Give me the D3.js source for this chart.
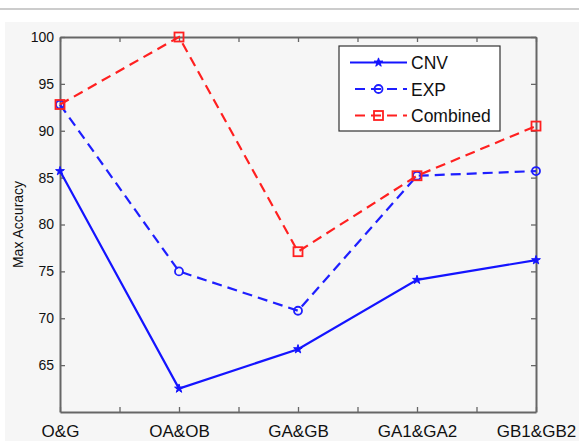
<!DOCTYPE html>
<html>
<head>
<meta charset="utf-8">
<script src="https://cdn.jsdelivr.net/npm/d3@7"></script>
<style>
  body { margin: 0; background: #fff; }
  svg { display: block; font-family: "Liberation Sans", Arial, sans-serif; }
</style>
</head>
<body>
<div id="chart"></div>
<script>
// data
var categories = ["O&G", "OA&OB", "GA&GB", "GA1&GA2", "GB1&GB2"];
var cnvValues = [85.7, 62.5, 66.7, 74.1, 76.2];
var expValues = [92.8, 75.0, 70.8, 85.2, 85.7];
var combinedValues = [92.8, 100, 77.1, 85.2, 90.5];
var yTicks = [65, 70, 75, 80, 85, 90, 95, 100];
var seriesNames = ["CNV", "EXP", "Combined"];

var W = 579, H = 441;
var margin = {top: 37, right: 43, bottom: 29, left: 60},
    width = W - margin.left - margin.right,
    height = H - margin.top - margin.bottom;

var svg = d3.select("#chart").append("svg")
    .attr("width", W)
    .attr("height", H);

// page decoration: thin rule and grey panel
svg.append("line")
    .attr("x1", 0).attr("x2", W).attr("y1", 9).attr("y2", 9)
    .style("stroke", "#bbb").style("stroke-width", 1.5);
svg.append("rect")
    .attr("x", 5).attr("y", 22).attr("width", W - 5).attr("height", H - 22)
    .style("fill", "#f6f6f6");

var g = svg.append("g")
    .attr("transform", "translate(" + margin.left + "," + margin.top + ")");

var x = d3.scaleLinear().domain([0, categories.length - 1]).range([0, width]);
var y = d3.scaleLinear().domain([60, 100]).range([height, 0]);

var xTickVals = d3.range(0, categories.length - 0.99, 0.5);

// axes (box style, ticks inward)
var xAxis = d3.axisBottom(x).tickValues(xTickVals).tickSizeInner(-5).tickSizeOuter(0)
    .tickFormat(function(d) { return Number.isInteger(d) ? categories[d] : ""; })
    .tickPadding(13);
var yAxis = d3.axisLeft(y).tickValues(yTicks).tickSizeInner(-5).tickSizeOuter(0).tickPadding(6);

var gx = g.append("g").attr("transform", "translate(0," + height + ")").call(xAxis);
var gy = g.append("g").call(yAxis);
var gxt = g.append("g").call(d3.axisTop(x).tickValues(xTickVals).tickSizeInner(-5).tickSizeOuter(0).tickFormat(""));
var gyr = g.append("g").attr("transform", "translate(" + width + ",0)")
    .call(d3.axisRight(y).tickValues(yTicks).tickSizeInner(-5).tickSizeOuter(0).tickFormat(""));

[gx, gy, gxt, gyr].forEach(function(a) {
    a.select(".domain").style("stroke", "#666").style("stroke-width", 2);
    a.selectAll(".tick line").style("stroke", "#666").style("stroke-width", 1.3);
    a.selectAll("text").style("font-size", "14px").style("fill", "#111")
        .style("font-family", "'Liberation Sans', Arial, sans-serif");
});
gx.selectAll("text").style("font-size", "17px");

// y label
g.append("text")
    .attr("transform", "rotate(-90)")
    .attr("x", -height / 2)
    .attr("y", -37)
    .style("text-anchor", "middle")
    .style("font-size", "14px")
    .style("fill", "#111")
    .text("Max Accuracy");

var line = d3.line()
    .x(function(d, i) { return x(i); })
    .y(function(d) { return y(d); });

var series = [
    {name: seriesNames[0], values: cnvValues, color: "#1414ff", dash: null, marker: "star"},
    {name: seriesNames[1], values: expValues, color: "#1e1eff", dash: "10,6", marker: "circle"},
    {name: seriesNames[2], values: combinedValues, color: "#ff2020", dash: "10,6", marker: "square"}
];

function drawMarker(sel, type, color) {
    if (type === "star") {
        sel.append("path")
            .attr("d", d3.symbol().type(d3.symbolStar).size(24)())
            .style("fill", color).style("stroke", color).style("stroke-width", 1);
    } else if (type === "circle") {
        sel.append("circle").attr("r", 4)
            .style("fill", "none").style("stroke", color).style("stroke-width", 1.8);
    } else {
        sel.append("rect").attr("x", -4.5).attr("y", -4.5).attr("width", 9).attr("height", 9)
            .style("fill", "none").style("stroke", color).style("stroke-width", 1.8);
    }
}

series.forEach(function(s) {
    g.append("path")
        .attr("d", line(s.values))
        .style("fill", "none")
        .style("stroke", s.color)
        .style("stroke-width", 2.2)
        .style("stroke-dasharray", s.dash);
    s.values.forEach(function(v, i) {
        var m = g.append("g").attr("transform", "translate(" + x(i) + "," + y(v) + ")");
        drawMarker(m, s.marker, s.color);
    });
});

// legend
var lg = svg.append("g").attr("transform", "translate(339,46)");
lg.append("rect").attr("width", 161).attr("height", 85)
    .style("fill", "#fff").style("stroke", "#333").style("stroke-width", 1.2);
series.forEach(function(s, i) {
    var row = lg.append("g").attr("transform", "translate(0," + (16.5 + i * 26.5) + ")");
    row.append("line").attr("x1", s.dash ? 16 : 11).attr("x2", 68).attr("y1", 0).attr("y2", 0)
        .style("stroke", s.color).style("stroke-width", 2.2)
        .style("stroke-dasharray", s.dash ? "10,6" : null);
    var m = row.append("g").attr("transform", "translate(39.5,0)");
    drawMarker(m, s.marker, s.color);
    row.append("text").attr("x", 72).attr("y", 6.5)
        .style("font-size", "17.5px").style("fill", "#111")
        .text(s.name);
});
</script>
</body>
</html>
